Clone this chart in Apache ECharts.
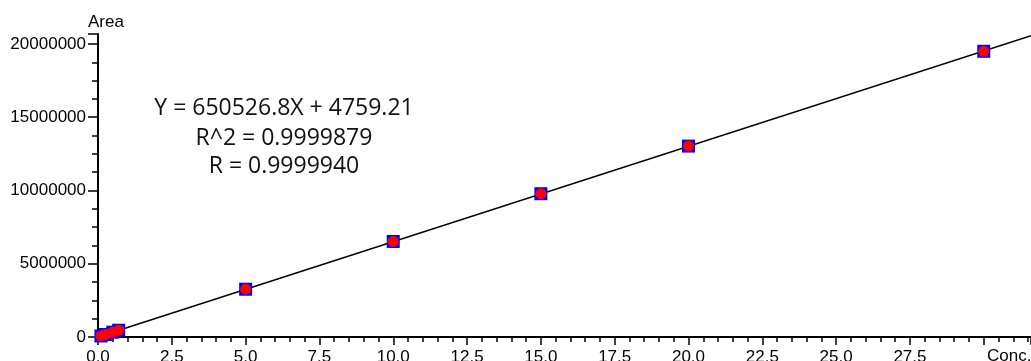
<!DOCTYPE html>
<html>
<head>
<meta charset="utf-8">
<script src="https://cdn.jsdelivr.net/npm/echarts@6/dist/echarts.min.js"></script>
<style>html,body{margin:0;padding:0;background:#fff}#c{width:1031px;height:361px}</style>
</head>
<body>
<div id="c"></div>
<script>
// Data
const concentrations = [0.1, 0.25, 0.5, 0.7, 5, 10, 15, 20, 30];
const areas = [70000, 170000, 330000, 460000, 3260000, 6520000, 9780000, 13030000, 19500000];
const fitX = [0, 31.6];
const fitY = [4759.21, 20561406];
const xTicks = ['0.0','2.5','5.0','7.5','10.0','12.5','15.0','17.5','20.0','22.5','25.0','27.5'];
const equationLines = ['Y = 650526.8X + 4759.21', 'R^2 = 0.9999879', 'R = 0.9999940'];

const pts = concentrations.map((c, i) => [c, areas[i]]);
const fit = fitX.map((x, i) => [x, fitY[i]]);

const chart = echarts.init(document.getElementById('c'));
const fontFam = '"Liberation Sans", Arial, sans-serif';
const eqFont = '23px "Open Sans", sans-serif';
chart.setOption({
  animation: false,
  grid: { left: 98, top: 34, right: 0, bottom: 24, containLabel: false, outerBoundsMode: 'none' },
  xAxis: [{
    type: 'value', min: 0, max: 31.6, interval: 2.5,
    axisLine: { show: true, onZero: false, lineStyle: { color: '#000', width: 2 } },
    axisTick: { show: true, length: 8, lineStyle: { color: '#000', width: 1.5 } },
    minorTick: { show: true, splitNumber: 5, length: 5, lineStyle: { color: '#000', width: 1.5 } },
    splitLine: { show: false },
    axisLabel: {
      color: '#000', fontSize: 17, fontFamily: fontFam, margin: 12,
      showMaxLabel: false,
      formatter: v => { const i = Math.round(v / 2.5); return xTicks[i] !== undefined ? xTicks[i] : ''; }
    }
  }, {
    type: 'value', position: 'top', min: 0, max: 31.6,
    axisLine: { show: true, lineStyle: { color: '#000', width: 1.5 } },
    axisTick: { show: false }, axisLabel: { show: false }, splitLine: { show: false }
  }],
  yAxis: {
    type: 'value', min: 0, max: 20680000, interval: 5000000,
    axisLine: { show: true, onZero: false, lineStyle: { color: '#000', width: 2 } },
    axisTick: { show: true, length: 10, lineStyle: { color: '#000', width: 1.5 } },
    minorTick: { show: true, splitNumber: 4, length: 6, lineStyle: { color: '#000', width: 1.5 } },
    splitLine: { show: false },
    axisLabel: { color: '#000', fontSize: 17, fontFamily: fontFam, margin: 12, showMaxLabel: false,
      formatter: v => String(v) }
  },
  graphic: [
    { type: 'text', x: 88, y: 14, style: { text: 'Area', fill: '#000', font: '17px ' + fontFam } },
    { type: 'text', x: 987, y: 348, style: { text: 'Conc.', fill: '#000', font: '17px ' + fontFam } },
    { type: 'text', x: 284, y: 108, style: { text: equationLines[0], fill: '#111', font: eqFont, align: 'center', verticalAlign: 'middle' } },
    { type: 'text', x: 284, y: 138, style: { text: equationLines[1], fill: '#111', font: eqFont, align: 'center', verticalAlign: 'middle' } },
    { type: 'text', x: 284, y: 166, style: { text: equationLines[2], fill: '#111', font: eqFont, align: 'center', verticalAlign: 'middle' } }
  ],
  series: [
    { type: 'line', data: fit, showSymbol: false, symbol: 'none', z: 1,
      lineStyle: { color: '#000', width: 1.5 } },
    { type: 'scatter', data: pts, symbol: 'rect', symbolSize: 13, z: 2,
      itemStyle: { color: '#0000ff', opacity: 1 } },
    { type: 'scatter', data: pts, symbol: 'circle', symbolSize: 11, z: 3,
      itemStyle: { color: '#ff0000', opacity: 1 } }
  ]
});
</script>
</body>
</html>
